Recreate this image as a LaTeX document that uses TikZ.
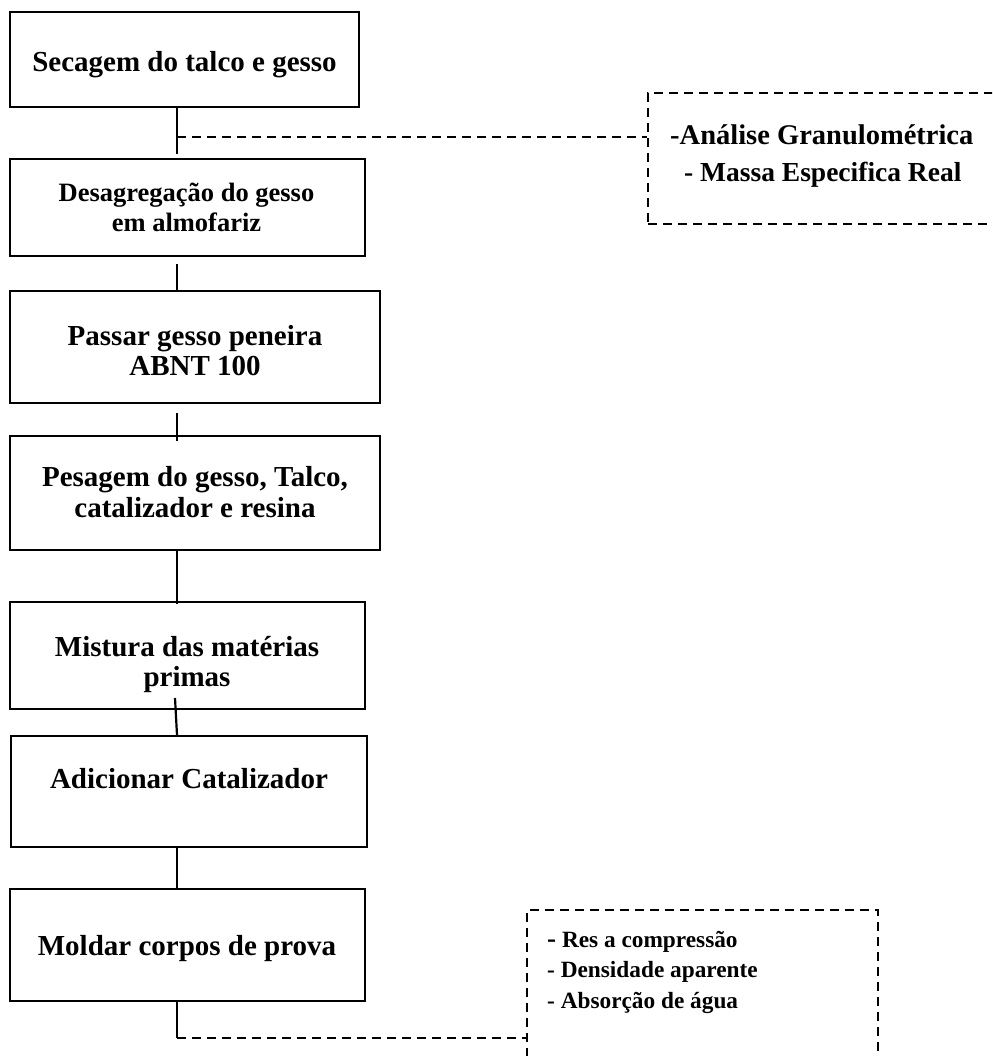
\documentclass[tikz,border=0pt]{standalone}
\usepackage{fontspec}
\setmainfont{Liberation Serif}
\begin{document}
\begin{tikzpicture}[x=1pt,y=-1pt,
  box/.style={draw, line width=2.2pt, rectangle, inner sep=0pt},
  dbox/.style={draw, line width=2.2pt, dash pattern=on 9pt off 6pt, rectangle, inner sep=0pt},
  conn/.style={line width=2.2pt},
  dconn/.style={line width=2.2pt, dash pattern=on 9pt off 6pt},
  txt/.style={inner sep=0pt, anchor=base, font=\bfseries\fontsize{29}{30.5}\selectfont},
  smalltxt/.style={inner sep=0pt, anchor=base, font=\bfseries\fontsize{26.5}{30}\selectfont},
  sidetxt/.style={inner sep=0pt, anchor=base west, font=\bfseries\fontsize{28.5}{37}\selectfont},
  bottxt/.style={inner sep=0pt, anchor=base west, font=\bfseries\fontsize{23.3}{30.5}\selectfont},
]
\useasboundingbox (0,0) rectangle (992,1056);
\clip (0,0) rectangle (992,1056);
\fill[white] (0,0) rectangle (992,1056);

% process boxes
\node[box, minimum width=349pt, minimum height=95pt]  (b1) at (184.5,59.5) {};
\node[box, minimum width=355pt, minimum height=97pt]  (b2) at (187.5,207.5) {};
\node[box, minimum width=370pt, minimum height=112pt] (b3) at (195,347) {};
\node[box, minimum width=370pt, minimum height=114pt] (b4) at (195,493) {};
\node[box, minimum width=355pt, minimum height=107pt] (b5) at (187.5,655.5) {};
\node[box, minimum width=356pt, minimum height=111pt] (b6) at (189,791.5) {};
\node[box, minimum width=355pt, minimum height=112pt] (b7) at (187.5,945) {};

% texts
\node[txt] (t1) at (184.5,72) {Secagem do talco e gesso};
\node[smalltxt] (t2) at (186.5,201.7) {\begin{tabular}[t]{@{}c@{}}Desagregação do gesso\\em almofariz\end{tabular}};
\node[txt] (t3) at (195,345) {\begin{tabular}[t]{@{}c@{}}Passar gesso peneira\\ABNT 100\end{tabular}};
\node[txt] (t4) at (195,486.7) {\begin{tabular}[t]{@{}c@{}}Pesagem do gesso, Talco,\\catalizador e resina\end{tabular}};
\node[txt] (t5) at (187,656) {\begin{tabular}[t]{@{}c@{}}Mistura das matérias\\primas\end{tabular}};
\node[txt] (t6) at (189,788) {Adicionar Catalizador};
\node[txt] (t7) at (187,955) {Moldar corpos de prova};

% dashed result boxes
\node[dbox, minimum width=392pt, minimum height=131pt] (r1) at (844,158.5) {};
\node[dbox, minimum width=351pt, minimum height=180pt] (r2) at (702.5,1000) {};
\node[sidetxt] (rt1) at (670,145) {\begin{tabular}[t]{@{}l@{}}-Análise Granulométrica\\\hspace*{14pt}{\fontsize{27.5}{37}\selectfont - Massa Especifica Real}\end{tabular}};
\node[bottxt] (rt2) at (547,947) {\begin{tabular}[t]{@{}l@{}}{\fontsize{27}{27}\selectfont -} Res a compressão\\- Densidade aparente\\- Absorção de água\end{tabular}};

% connectors
\coordinate (s) at (177,0);
\coordinate (j1) at (177,137);
\coordinate (j2) at (177,1038);
\coordinate (k5) at (175,698);
\draw[conn] (b1.south -| s) -- ([yshift=4pt]b2.north -| s);
\draw[conn] ([yshift=-7pt]b2.south -| s) -- (b3.north -| s);
\draw[conn] ([yshift=-9pt]b3.south -| s) -- ([yshift=-6pt]b4.north -| s);
\draw[conn] (b4.south -| s) -- ([yshift=-3pt]b5.north -| s);
\draw[conn] (k5) -- (b6.north -| s);
\draw[conn] (b6.south -| s) -- (b7.north -| s);
\draw[conn] (b7.south -| s) -- (j2);
\draw[dconn] (j1) -- (r1.west |- j1);
\draw[dconn] (j2) -- (r2.west |- j2);
\end{tikzpicture}
\end{document}
